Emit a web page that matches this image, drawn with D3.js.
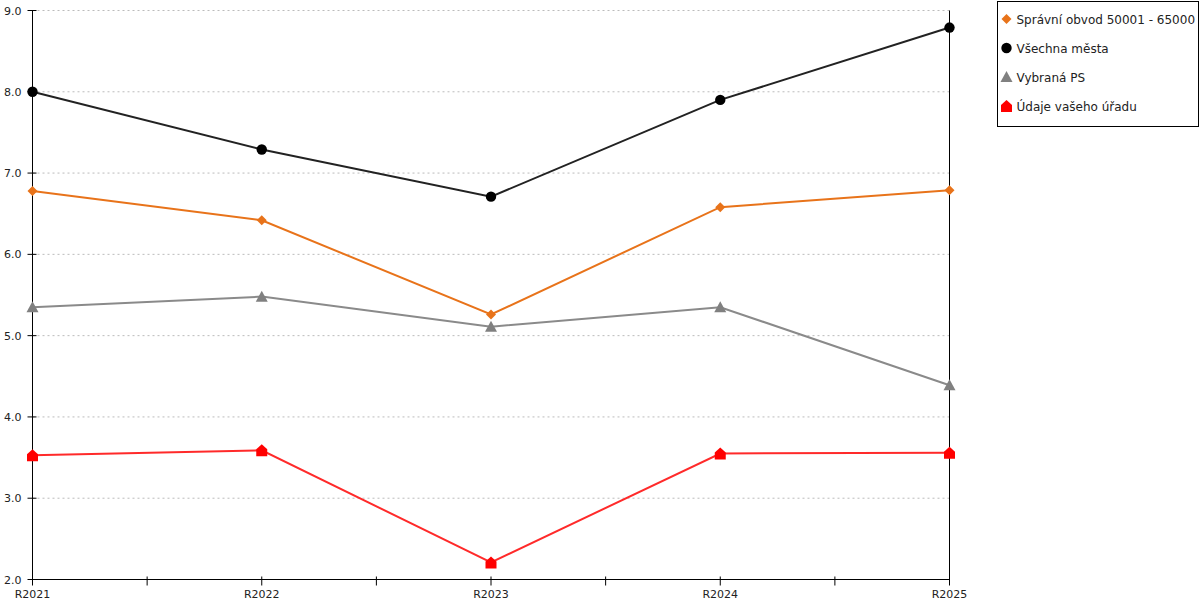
<!DOCTYPE html>
<html>
<head>
<meta charset="utf-8">
<script src="https://cdn.jsdelivr.net/npm/d3@7"></script>
<style>
  body { margin: 0; background: #fff; }
  svg text { font-family: "DejaVu Sans", Verdana, sans-serif; font-size: 11px; fill: #222; }
</style>
</head>
<body>
<svg id="chart" width="1200" height="600"></svg>
<script>
// categories + series
var years = ["R2021", "R2022", "R2023", "R2024", "R2025"];
var yTicks = [2, 3, 4, 5, 6, 7, 8, 9];

var spravniObvod = [6.78, 6.42, 5.26, 6.58, 6.79];
var vsechnaMesta = [8.00, 7.29, 6.71, 7.90, 8.79];
var vybranaPS    = [5.35, 5.48, 5.11, 5.35, 4.39];
var udajeUradu   = [3.53, 3.59, 2.21, 3.55, 3.56];

var seriesNames = ["Správní obvod 50001 - 65000", "Všechna města", "Vybraná PS", "Údaje vašeho úřadu"];
var seriesColors = ["#e8731a", "#000000", "#808080", "#ff0000"];
var lineColors = ["#e8731a", "#222222", "#8a8a8a", "#ff2a2a"];
var seriesMarks = ["diamond", "circle", "triangle", "house"];

var allData = [spravniObvod, vsechnaMesta, vybranaPS, udajeUradu].map(function(vals, i) {
  return {
    key: seriesNames[i],
    color: seriesColors[i],
    line: lineColors[i],
    mark: seriesMarks[i],
    values: vals.map(function(v, j) { return { year: years[j], value: v }; })
  };
});

var svg = d3.select("#chart");

var x = d3.scalePoint().domain(years).range([32.5, 949.5]);
var y = d3.scaleLinear().domain([2, 9]).range([579.5, 10.5]);

// marker shapes
function markPath(type) {
  if (type == "circle") return d3.symbol().type(d3.symbolCircle).size(Math.PI * 27)();
  if (type == "diamond") return "M0,-5L5,0L0,5L-5,0Z";
  if (type == "triangle") return "M0,-6L6,5L-6,5Z";
  return "M0,-6L5.5,-1L5.5,6L-5.5,6L-5.5,-1Z";
}

// grid
svg.append("g").selectAll("line")
  .data(yTicks.filter(function(d) { return d > 2; }))
  .enter().append("line")
  .attr("x1", x.range()[0]).attr("x2", x.range()[1])
  .attr("y1", function(d) { return y(d); })
  .attr("y2", function(d) { return y(d); })
  .attr("stroke", "#bbbbbb")
  .attr("stroke-dasharray", "2,3");

// right border line
svg.append("line")
  .attr("x1", x.range()[1]).attr("x2", x.range()[1])
  .attr("y1", y(9)).attr("y2", y(2))
  .attr("stroke", "#000");

// y axis
var yAxis = svg.append("g").attr("transform", "translate(" + x.range()[0] + ",0)");
yAxis.append("line").attr("y1", y(9)).attr("y2", y(2)).attr("stroke", "#000");
yAxis.selectAll(".tk").data(yTicks).enter().append("line")
  .attr("x1", -5).attr("x2", 4)
  .attr("y1", function(d) { return y(d); })
  .attr("y2", function(d) { return y(d); })
  .attr("stroke", "#000");
yAxis.selectAll("text").data(yTicks).enter().append("text")
  .attr("x", -11)
  .attr("y", function(d) { return y(d) + 4; })
  .attr("text-anchor", "end")
  .text(function(d) { return d3.format(".1f")(d); });

// x axis: ticks at categories and halfway between
var step = x.step();
var xTickPos = [];
years.forEach(function(yr, i) {
  xTickPos.push(x(yr));
  if (i < years.length - 1) xTickPos.push(x(yr) + step / 2);
});
var xAxis = svg.append("g").attr("transform", "translate(0," + y(2) + ")");
xAxis.append("line").attr("x1", x.range()[0]).attr("x2", x.range()[1]).attr("stroke", "#000");
xAxis.selectAll(".tk").data(xTickPos).enter().append("line")
  .attr("x1", function(d) { return d; })
  .attr("x2", function(d) { return d; })
  .attr("y1", -3).attr("y2", 6)
  .attr("stroke", "#000");
xAxis.selectAll("text").data(years).enter().append("text")
  .attr("x", function(d) { return x(d); })
  .attr("y", 18)
  .attr("text-anchor", "middle")
  .text(function(d) { return d; });

// lines + markers
var line = d3.line()
  .x(function(d) { return x(d.year); })
  .y(function(d) { return y(d.value); });

var drawOrder = [2, 0, 1, 3];
drawOrder.forEach(function(i) {
  var s = allData[i];
  svg.append("path")
    .datum(s.values)
    .attr("d", line)
    .attr("fill", "none")
    .attr("stroke", s.line)
    .attr("stroke-width", 2);
});
drawOrder.forEach(function(i) {
  var s = allData[i];
  svg.append("g").selectAll("path")
    .data(s.values)
    .enter().append("path")
    .attr("d", markPath(s.mark))
    .attr("transform", function(d) { return "translate(" + x(d.year) + "," + y(d.value) + ")"; })
    .attr("fill", s.color);
});

// legend
var legend = svg.append("g").attr("transform", "translate(997.5,1.5)");
legend.append("rect")
  .attr("width", 201).attr("height", 125)
  .attr("fill", "#fff").attr("stroke", "#000");
var items = legend.selectAll(".item").data(allData).enter().append("g")
  .attr("transform", function(d, i) { return "translate(9," + (17.5 + i * 29) + ")"; });
items.append("path")
  .attr("d", function(d) { return markPath(d.mark); })
  .attr("fill", function(d) { return d.color; });
items.append("text")
  .attr("x", 10).attr("y", 4.5)
  .style("font-size", "12px")
  .text(function(d) { return d.key; });
</script>
</body>
</html>
